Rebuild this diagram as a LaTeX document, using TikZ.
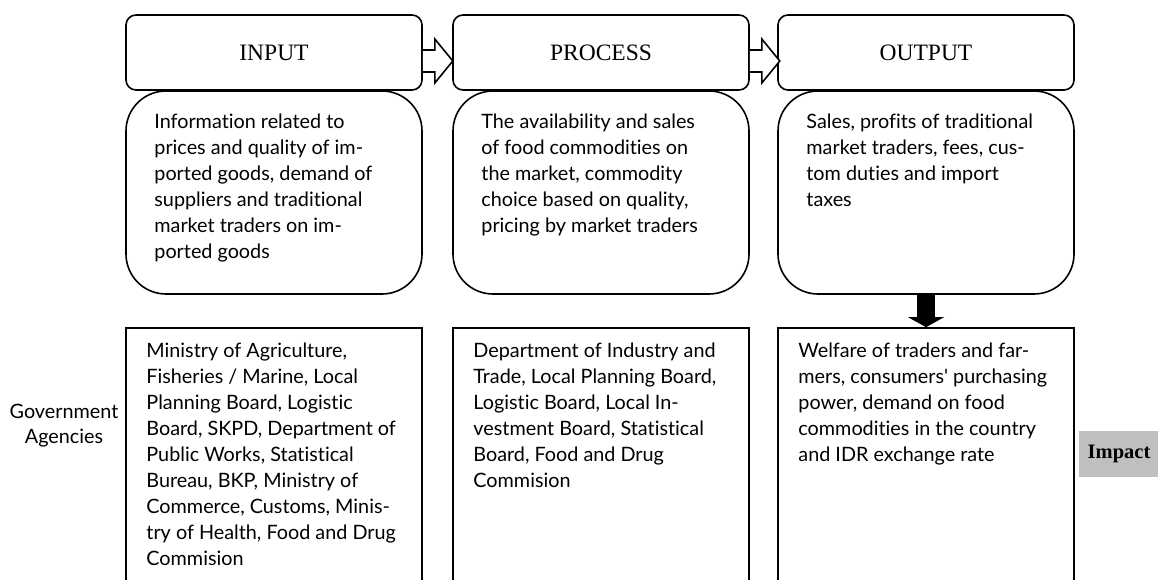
\documentclass[tikz,border=0pt]{standalone}
\usepackage{fontspec}
\setmainfont{Lato}[Ligatures={TeXOff,NoCommon}]
\newfontfamily\kopffont{Liberation Serif}
\usetikzlibrary{arrows.meta}

\def\breite{296}
\def\rand{1.6pt}

\tikzset{
	kopf/.style={draw,line width=\rand,rounded corners=10pt,minimum width=\breite pt,minimum height=75pt,inner sep=0pt,font=\kopffont\fontsize{23.5}{27}\selectfont},
	rumpf/.style={draw,line width=\rand,rounded corners=40pt,minimum width=\breite pt,minimum height=203pt,inner sep=0pt},
	kasten/.style={draw,line width=\rand,minimum width=\breite pt,minimum height=290pt,inner sep=0pt},
	inhalt/.style={anchor=north west,align=left,inner sep=0pt,font=\fontsize{19.8}{26}\selectfont},
	hohlpfeil/.style={draw,line width=\rand,fill=white,line join=miter},
}

\begin{document}
\begin{tikzpicture}[x=1pt,y=-1pt]
\clip (0,0) rectangle (1158,580);

\node[kopf] (inkopf) at (274,52.5) {INPUT};
\node[kopf] (prokopf) at (601,52.5) {PROCESS};
\node[kopf] (outkopf) at (926,52.5) {OUTPUT};

\node[rumpf] (inrumpf) at (274,192.5) {};
\node[rumpf] (prorumpf) at (601,192.5) {};
\node[rumpf] (outrumpf) at (926,192.5) {};

\node[kasten] (inkasten) at (274,473) {};
\node[kasten] (prokasten) at (601,473) {};
\node[kasten] (outkasten) at (926,473) {};

\foreach \von in {inkopf,prokopf}{
	\draw[hohlpfeil] ([yshift=2.5pt]\von.east) -- ++(12,0) -- ++(0,-11) -- ++(18,22) -- ++(-18,22) -- ++(0,-11) -- ++(-12,0);
}

\draw[line width=18pt,-{Triangle[length=10pt,width=36pt,line width=0pt]}] (outrumpf.south) -- (outkasten.north);

\node[inhalt] (intext) at ([xshift=29pt,yshift=-24pt]inrumpf.north west) {
Information related to\\
prices and quality of im-\\
ported goods, demand of\\
suppliers and traditional\\
market traders on im-\\
ported goods};
\node[inhalt] (protext) at ([xshift=29pt,yshift=-24pt]prorumpf.north west) {
The availability and sales\\
of food commodities on\\
the market, commodity\\
choice based on quality,\\
pricing by market traders};
\node[inhalt] (outtext) at ([xshift=29pt,yshift=-24pt]outrumpf.north west) {
Sales, profits of traditional\\
market traders, fees, cus-\\
tom duties and import\\
taxes};

\node[inhalt] (ingov) at ([xshift=21pt,yshift=-16pt]inkasten.north west) {
Ministry of Agriculture,\\
Fisheries / Marine, Local\\
Planning Board, Logistic\\
Board, SKPD, Department of\\
Public Works, Statistical\\
Bureau, BKP, Ministry of\\
Commerce, Customs, Minis-\\
try of Health, Food and Drug\\
Commision};
\node[inhalt] (progov) at ([xshift=21pt,yshift=-16pt]prokasten.north west) {
Department of Industry and\\
Trade, Local Planning Board,\\
Logistic Board, Local In-\\
vestment Board, Statistical\\
Board, Food and Drug\\
Commision};
\node[inhalt] (outgov) at ([xshift=21pt,yshift=-16pt]outkasten.north west) {
Welfare of traders and far-\\
mers, consumers' purchasing\\
power, demand on food\\
commodities in the country\\
and IDR exchange rate};

\node[align=center,inner sep=0pt,font=\fontsize{19.8}{25}\selectfont] (gov) at (64,426) {Government\\Agencies};

\node[fill=gray!50,minimum width=80pt,minimum height=46pt,inner sep=0pt,font=\kopffont\bfseries\fontsize{20.5}{24}\selectfont] (impact) at (1119,454) {Impact};

\end{tikzpicture}
\end{document}
